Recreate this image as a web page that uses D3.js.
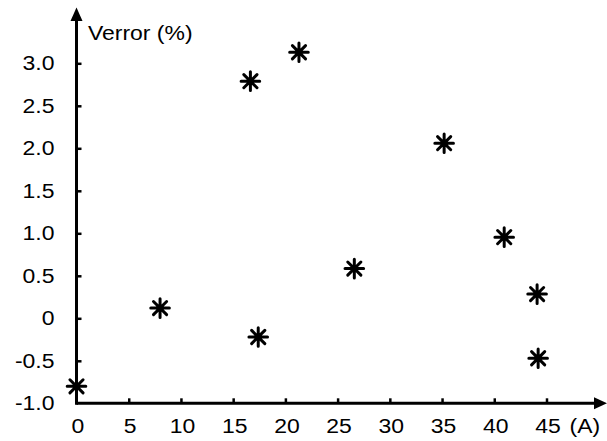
<!DOCTYPE html>
<html>
<head>
<meta charset="utf-8">
<script src="https://cdn.jsdelivr.net/npm/d3@7"></script>
<style>
html,body{margin:0;padding:0;background:#fff;}
svg{display:block;}
text{font-family:"Liberation Sans",Arial,sans-serif;fill:#000;}
</style>
</head>
<body>
<div id="chart"></div>
<script>
// Data
const currentA = [0, 8, 16.65, 17.4, 21.3, 26.6, 35.2, 40.95, 44.1, 44.2];
const verrorPct = [-0.8, 0.12, 2.79, -0.22, 3.13, 0.585, 2.06, 0.955, 0.285, -0.47];
const xTicks = [0, 5, 10, 15, 20, 25, 30, 35, 40, 45];
const yTicks = [-1.0, -0.5, 0, 0.5, 1.0, 1.5, 2.0, 2.5, 3.0];
const yTickLabels = ["-1.0", "-0.5", "0", "0.5", "1.0", "1.5", "2.0", "2.5", "3.0"];
const yTitle = "Verror (%)";
const xTitle = "(A)";

const W = 607, H = 441;
const SX = 1.12; // horizontal stretch of text in the reference
const FS = 20.5;

const svg = d3.select("#chart").append("svg").attr("width", W).attr("height", H);

const x = d3.scaleLinear().domain([0, 45]).range([76.5, 546.5]);
const y = d3.scaleLinear().domain([-1, 3]).range([403.3, 63.3]);

// Axis lines
svg.append("line").attr("x1", x(0)).attr("x2", 600).attr("y1", y(-1)).attr("y2", y(-1))
  .attr("stroke", "#000").attr("stroke-width", 3);
svg.append("line").attr("x1", x(0)).attr("x2", x(0)).attr("y1", y(-1) + 1.5).attr("y2", 14)
  .attr("stroke", "#000").attr("stroke-width", 3);
// Arrowheads
svg.append("path").attr("d", `M${x(0)},7.5 L${x(0) - 6},21 L${x(0) + 6},21 Z`).attr("fill", "#000");
svg.append("path").attr("d", `M607,${y(-1)} L594,${y(-1) - 6} L594,${y(-1) + 6} Z`).attr("fill", "#000");

// Y axis ticks + labels
const yAxis = d3.axisLeft(y).tickValues(yTicks)
  .tickSizeInner(-5).tickSizeOuter(0).tickPadding(0)
  .tickFormat((d, i) => yTickLabels[i]);
const gy = svg.append("g").attr("transform", `translate(${x(0)},0)`).call(yAxis);
gy.select(".domain").remove();
gy.selectAll(".tick line").attr("stroke", "#000").attr("stroke-width", 2.5)
  .attr("display", d => d === -1 ? "none" : null);
gy.selectAll(".tick text")
  .attr("x", null).attr("dy", null)
  .attr("transform", `translate(-22,6.5) scale(${SX},1)`)
  .attr("text-anchor", "end")
  .style("font-size", FS + "px");

// X axis ticks + labels
const xAxis = d3.axisBottom(x).tickValues(xTicks)
  .tickSizeInner(-5).tickSizeOuter(0).tickPadding(0)
  .tickFormat(d3.format("d"));
const gx = svg.append("g").attr("transform", `translate(0,${y(-1)})`).call(xAxis);
gx.select(".domain").remove();
gx.selectAll(".tick line").attr("stroke", "#000").attr("stroke-width", 2.5)
  .attr("display", d => d === 0 ? "none" : null);
gx.selectAll(".tick text")
  .attr("y", null).attr("dy", null)
  .attr("transform", `translate(1,29.5) scale(${SX},1)`)
  .attr("text-anchor", "middle")
  .style("font-size", FS + "px");

// Axis titles
svg.append("text").attr("transform", `translate(88,39.5) scale(${SX},1)`)
  .style("font-size", FS + "px").text(yTitle);
svg.append("text").attr("transform", `translate(569.5,432.5) scale(${SX},1)`)
  .style("font-size", FS + "px").text(xTitle);

// Asterisk markers
const r = 9.3;
const star = d3.range(4).map(k => {
  const a = k * Math.PI / 4;
  const dx = r * Math.cos(a), dy = r * Math.sin(a);
  return `M${-dx},${-dy}L${dx},${dy}`;
}).join("");
svg.append("g").selectAll("path").data(currentA).join("path")
  .attr("transform", (d, i) => `translate(${x(d)},${y(verrorPct[i])})`)
  .attr("d", star)
  .attr("stroke", "#000").attr("stroke-width", 3).attr("stroke-linecap", "round")
  .attr("fill", "none");
</script>
</body>
</html>
